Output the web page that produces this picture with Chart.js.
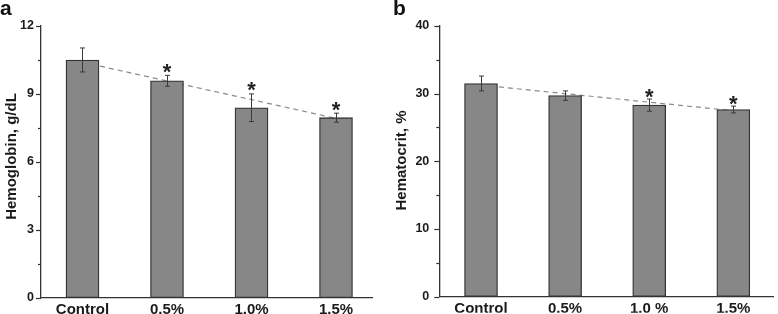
<!DOCTYPE html>
<html>
<head>
<meta charset="utf-8">
<script src="https://cdn.jsdelivr.net/npm/chart.js@4.4.0/dist/chart.umd.min.js"></script>
<style>
  html, body { margin: 0; padding: 0; background: #fff; }
  #wrap { position: relative; width: 778px; height: 314px; overflow: hidden; }
  canvas { position: absolute; top: 0; }
</style>
</head>
<body>
<div id="wrap">
  <canvas id="cA" width="390" height="314" style="left:0"></canvas>
  <canvas id="cB" width="388" height="314" style="left:390px"></canvas>
</div>
<script>
// ---- Data ----
const categoriesA = ['Control', '0.5%', '1.0%', '1.5%'];
const categoriesB = ['Control', '0.5%', '1.0 %', '1.5%'];

const hemoglobin = [10.5, 9.58, 8.39, 7.95];
const hemoglobinErr = [0.53, 0.24, 0.61, 0.2];
const hemoglobinSig = [false, true, true, true];
const hemoglobinTrend = [10.4, 7.92];
const hemoglobinTicks = [0, 3, 6, 9, 12];

const hematocrit = [31.5, 29.7, 28.3, 27.65];
const hematocritErr = [1.1, 0.7, 0.9, 0.5];
const hematocritSig = [false, false, true, true];
const hematocritTrend = [31.26, 27.47];
const hematocritTicks = [0, 10, 20, 30, 40];

const FONT = '"Liberation Sans", Arial, Helvetica, sans-serif';
const AXIS_COLOR = '#333333';
const TEXT_COLOR = '#1a1a1a';

function buildChart(canvasId, opts) {
  const n = opts.categories.length;
  const barData = opts.values.map((v, i) => ({ x: i, y: v }));
  const trendData = [{ x: 0, y: opts.trend[0] }, { x: n - 1, y: opts.trend[1] }];
  const step = opts.ticks[1] - opts.ticks[0];

  const decorPlugin = {
    id: 'decor_' + canvasId,
    afterDatasetsDraw(chart) {
      const ctx = chart.ctx;
      const xs = chart.scales.x, ys = chart.scales.y;
      ctx.save();
      // error bars
      ctx.strokeStyle = '#3a3a3a';
      ctx.lineWidth = 1;
      opts.values.forEach((v, i) => {
        const px = Math.round(xs.getPixelForValue(i)) + 0.5;
        const top = ys.getPixelForValue(v + opts.errors[i]);
        const bot = ys.getPixelForValue(v - opts.errors[i]);
        ctx.beginPath();
        ctx.moveTo(px, top); ctx.lineTo(px, bot);
        ctx.moveTo(px - 2.5, top); ctx.lineTo(px + 2.5, top);
        ctx.moveTo(px - 2.5, bot); ctx.lineTo(px + 2.5, bot);
        ctx.stroke();
      });
      // significance stars
      ctx.fillStyle = '#222';
      ctx.font = 'bold 22px ' + FONT;
      ctx.textAlign = 'center';
      ctx.textBaseline = 'alphabetic';
      const m = ctx.measureText('*');
      const asc = m.actualBoundingBoxAscent, desc = m.actualBoundingBoxDescent;
      opts.sig.forEach((s, i) => {
        if (!s) return;
        const px = xs.getPixelForValue(i);
        const top = ys.getPixelForValue(opts.values[i] + opts.errors[i]);
        const center = top - opts.starGap;
        const base = center - (desc - asc) / 2;
        ctx.fillText('*', px, base);
      });
      // y ticks (major + minor)
      ctx.strokeStyle = AXIS_COLOR;
      ctx.lineWidth = 1.2;
      const ax = chart.chartArea.left;
      const maxV = opts.ticks[opts.ticks.length - 1];
      for (let k = 0; k * step / 2 <= maxV + 1e-9; k++) {
        const val = k * step / 2;
        const py = Math.round(ys.getPixelForValue(val)) + 0.5;
        const len = (k % 2 === 0) ? 5 : 3;
        ctx.beginPath();
        ctx.moveTo(ax - len, py); ctx.lineTo(ax, py);
        ctx.stroke();
      }
      // panel letter
      ctx.fillStyle = '#111';
      ctx.font = 'bold 21px ' + FONT;
      ctx.textAlign = 'left';
      ctx.textBaseline = 'alphabetic';
      ctx.fillText(opts.letter, opts.letterX, 15);
      // y-axis title
      ctx.save();
      ctx.translate(opts.titleX, opts.titleY);
      ctx.rotate(-Math.PI / 2);
      ctx.font = 'bold 15px ' + FONT;
      ctx.fillStyle = TEXT_COLOR;
      ctx.textAlign = 'center';
      ctx.textBaseline = 'middle';
      ctx.fillText(opts.title, 0, 0);
      ctx.restore();
      ctx.restore();
    }
  };

  return new Chart(document.getElementById(canvasId), {
    data: {
      datasets: [
        {
          type: 'bar',
          data: barData,
          backgroundColor: '#878787',
          borderColor: '#333333',
          borderWidth: 1.3,
          borderSkipped: false,
          barThickness: 33,
          order: 0
        },
        {
          type: 'line',
          data: trendData,
          borderColor: '#8a8a8a',
          borderWidth: 1.2,
          borderDash: [5, 4],
          pointRadius: 0,
          fill: false,
          order: 1
        }
      ]
    },
    options: {
      responsive: false,
      animation: false,
      devicePixelRatio: 1,
      layout: { padding: { left: 0, right: opts.padRight, top: 26, bottom: 0 } },
      plugins: { legend: { display: false }, tooltip: { enabled: false } },
      scales: {
        x: {
          type: 'linear',
          offset: false,
          min: opts.xMin,
          max: opts.xMax,
          afterBuildTicks(scale) {
            scale.ticks = opts.categories.map((c, i) => ({ value: i }));
          },
          afterFit(scale) { scale.height = 314 - 297.7; },
          ticks: {
            autoSkip: false,
            maxRotation: 0,
            padding: 3,
            color: TEXT_COLOR,
            font: { family: FONT, size: 15, weight: 'bold' },
            callback: (v) => opts.categories[v]
          },
          grid: { display: false, offset: false, drawOnChartArea: false, drawTicks: false },
          border: { display: true, color: AXIS_COLOR, width: 1.3 }
        },
        y: {
          type: 'linear',
          min: opts.ticks[0],
          max: opts.ticks[opts.ticks.length - 1],
          afterBuildTicks(scale) {
            scale.ticks = opts.ticks.map(v => ({ value: v }));
          },
          afterFit(scale) { scale.width = opts.axisX; },
          ticks: {
            padding: opts.tickPad,
            color: TEXT_COLOR,
            font: { family: FONT, size: 12.5, weight: 'bold' }
          },
          grid: { display: false, drawOnChartArea: false, drawTicks: false },
          border: { display: true, color: AXIS_COLOR, width: 1.3 }
        }
      }
    },
    plugins: [decorPlugin]
  });
}

buildChart('cA', {
  categories: categoriesA,
  values: hemoglobin,
  errors: hemoglobinErr,
  sig: hemoglobinSig,
  trend: hemoglobinTrend,
  ticks: hemoglobinTicks,
  xMin: -0.491, xMax: 3.426,
  axisX: 41, padRight: 390 - 372, tickPad: 7,
  starGap: 7,
  letter: 'a', letterX: 0,
  title: 'Hemoglobin, g/dL', titleX: 12, titleY: 156.5
});

buildChart('cB', {
  categories: categoriesB,
  values: hematocrit,
  errors: hematocritErr,
  sig: hematocritSig,
  trend: hematocritTrend,
  ticks: hematocritTicks,
  xMin: -0.496, xMax: 3.472,
  axisX: 49.3, padRight: 388 - 383, tickPad: 10,
  starGap: 6,
  letter: 'b', letterX: 3,
  title: 'Hematocrit, %', titleX: 12, titleY: 160.5
});
</script>
</body>
</html>
